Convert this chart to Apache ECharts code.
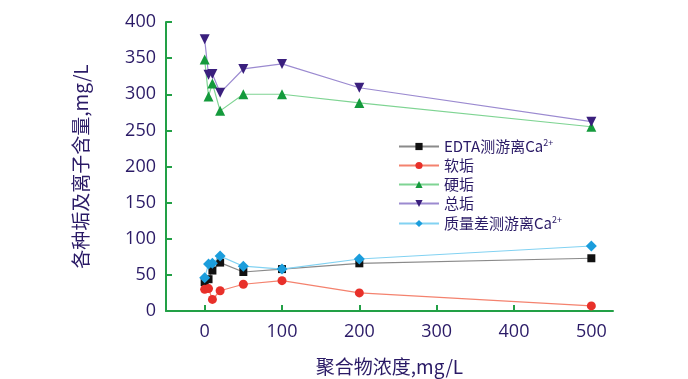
<!DOCTYPE html>
<html>
<head>
<meta charset="utf-8">
<script src="https://cdn.jsdelivr.net/npm/echarts@6/dist/echarts.min.js"></script>
<style>html,body{margin:0;padding:0;background:#fff;}#c{width:688px;height:379px;}</style>
</head>
<body>
<div id="c"></div>
<script>
const xValues = [0, 5, 10, 20, 50, 100, 200, 500];
const edtaCa = [40, 44, 56, 67, 54, 58, 66, 73];
const softScale = [30, 31, 16, 28, 37, 42, 25, 7];
const hardScale = [348, 297, 315, 277, 300, 300, 288, 255];
const totalScale = [376, 327, 328, 302, 335, 342, 309, 262];
const massDiffCa = [46, 65, 66, 76, 62, 58, 72, 90];
const xTicks = [0, 100, 200, 300, 400, 500];
const seriesNames = ['EDTA测游离Ca{sup|2+}', '软垢', '硬垢', '总垢', '质量差测游离Ca{sup|2+}'];

const pairs = arr => xValues.map((x, i) => [x, arr[i]]);
const txt = '#2a1a66';
const axisGreen = '#22a046';

const chart = echarts.init(document.getElementById('c'));
chart.setOption({
  animation: false,
  backgroundColor: '#fff',
  grid: { left: 166, right: 75, top: 22, bottom: 68, outerBoundsMode: 'none', containLabel: false },
  legend: {
    orient: 'vertical',
    left: 393, top: 133,
    itemWidth: 40, itemHeight: 9, itemGap: 4,
    data: seriesNames,
    textStyle: {
      color: txt, fontSize: 15, fontFamily: 'Noto Sans CJK SC',
      rich: { sup: { fontSize: 9, verticalAlign: 'top', padding: [0, 0, 8, 0], color: txt } }
    }
  },
  xAxis: {
    type: 'value', min: -50, max: 528,
    name: '聚合物浓度,mg/L', nameLocation: 'middle', nameGap: 46,
    nameTextStyle: { color: txt, fontSize: 19, fontFamily: 'Noto Sans CJK SC' },
    axisLine: { lineStyle: { color: axisGreen, width: 2 } },
    axisTick: { inside: true, length: 6, customValues: xTicks, lineStyle: { color: axisGreen, width: 2 } },
    axisLabel: { customValues: xTicks, color: txt, fontSize: 18, fontFamily: 'Open Sans', margin: 12 },
    splitLine: { show: false }
  },
  yAxis: {
    type: 'value', min: 0, max: 400, interval: 50,
    name: '各种垢及离子含量,mg/L', nameLocation: 'middle', nameGap: 76, nameRotate: 90,
    nameTextStyle: { color: txt, fontSize: 19, fontFamily: 'Noto Sans CJK SC' },
    axisLine: { show: true, onZero: false, lineStyle: { color: axisGreen, width: 2 } },
    axisTick: { show: true, inside: true, length: 6, lineStyle: { color: axisGreen, width: 2 } },
    axisLabel: { color: txt, fontSize: 18, fontFamily: 'Open Sans', margin: 10 },
    splitLine: { show: false }
  },
  series: [
    { name: seriesNames[0], type: 'line', data: pairs(edtaCa), symbol: 'rect', symbolSize: 8,
      itemStyle: { color: '#111' }, lineStyle: { color: '#8a8a8a', width: 1.2 }, z: 3 },
    { name: seriesNames[1], type: 'line', data: pairs(softScale), symbol: 'circle', symbolSize: 9,
      itemStyle: { color: '#e8302a' }, lineStyle: { color: '#f4826e', width: 1.2 }, z: 3 },
    { name: seriesNames[2], type: 'line', data: pairs(hardScale), symbol: 'triangle', symbolSize: 10,
      itemStyle: { color: '#149a3c' }, lineStyle: { color: '#7fd493', width: 1.2 }, z: 3 },
    { name: seriesNames[3], type: 'line', data: pairs(totalScale), symbol: 'triangle', symbolRotate: 180, symbolSize: 10,
      itemStyle: { color: '#3a1f7d' }, lineStyle: { color: '#9b8ad0', width: 1.2 }, z: 3 },
    { name: seriesNames[4], type: 'line', data: pairs(massDiffCa), symbol: 'diamond', symbolSize: 11,
      itemStyle: { color: '#1b9ddc' }, lineStyle: { color: '#82d2f2', width: 1.2 }, z: 4 }
  ]
});
</script>
</body>
</html>
